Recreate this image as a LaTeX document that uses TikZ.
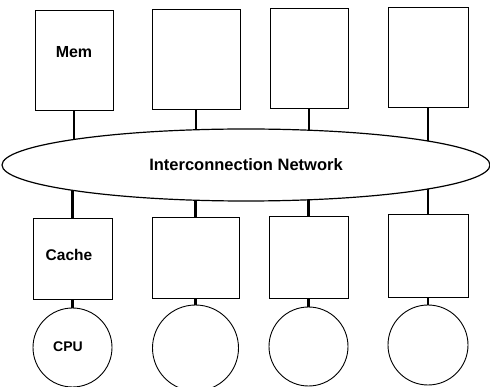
\documentclass[tikz,border=0pt]{standalone}
\usepackage{fontspec}
\setmainfont{Liberation Sans}
\usetikzlibrary{shapes.geometric,backgrounds}
\begin{document}
\begin{tikzpicture}[x=1pt,y=-1pt,
  box/.style={draw,line width=0.9pt,fill=white,inner sep=0pt,rectangle},
  cpu/.style={draw,line width=0.9pt,fill=white,inner sep=0pt,circle},
  link/.style={line width=2.6pt},
  lbl/.style={font=\bfseries\fontsize{16}{18}\selectfont,inner sep=0pt}]
\useasboundingbox (0,0) rectangle (490,387);
% memory boxes
\node[box,minimum width=78pt,minimum height=100pt] (m1) at (74,60) {};
\node[box,minimum width=88pt,minimum height=100pt] (m2) at (196,59) {};
\node[box,minimum width=78pt,minimum height=100pt] (m3) at (309,58) {};
\node[box,minimum width=80pt,minimum height=100pt] (m4) at (428,57) {};
\node[lbl] (memlbl) at (74,52) {Mem};
% cache boxes
\node[box,minimum width=79pt,minimum height=81pt] (c1) at (72.5,258.5) {};
\node[box,minimum width=87pt,minimum height=81pt] (c2) at (195.5,257.5) {};
\node[box,minimum width=79pt,minimum height=82pt] (c3) at (308.5,257) {};
\node[box,minimum width=80pt,minimum height=83pt] (c4) at (428,255.5) {};
\node[lbl,font=\bfseries\fontsize{15.5}{18}\selectfont] (cachelbl) at (69,255) {Cache};
% cpus
\node[cpu,minimum size=79pt] (p1) at (72.5,347.5) {};
\node[cpu,minimum size=86pt] (p2) at (195.5,348) {};
\node[cpu,minimum size=79pt] (p3) at (308.5,346.5) {};
\node[cpu,minimum size=80pt] (p4) at (428,345) {};
\node[lbl,font=\bfseries\fontsize{14}{16}\selectfont] (cpulbl) at (68,347) {CPU};
% network
\node[draw,ellipse,line width=1.2pt,fill=white,inner sep=0pt,
      minimum width=488pt,minimum height=72pt,
      font=\bfseries\fontsize{16.5}{18}\selectfont] (net) at (246,165) {Interconnection Network};
\begin{scope}[on background layer]
\foreach \i in {1,2,3,4}{
  \draw[link] (m\i.south) -- (m\i.south |- net.center);
  \draw[link] (c\i.north) -- (c\i.north |- net.center);
  \draw[link] (c\i.south) -- (p\i.north);
}
\end{scope}
\end{tikzpicture}
\end{document}
